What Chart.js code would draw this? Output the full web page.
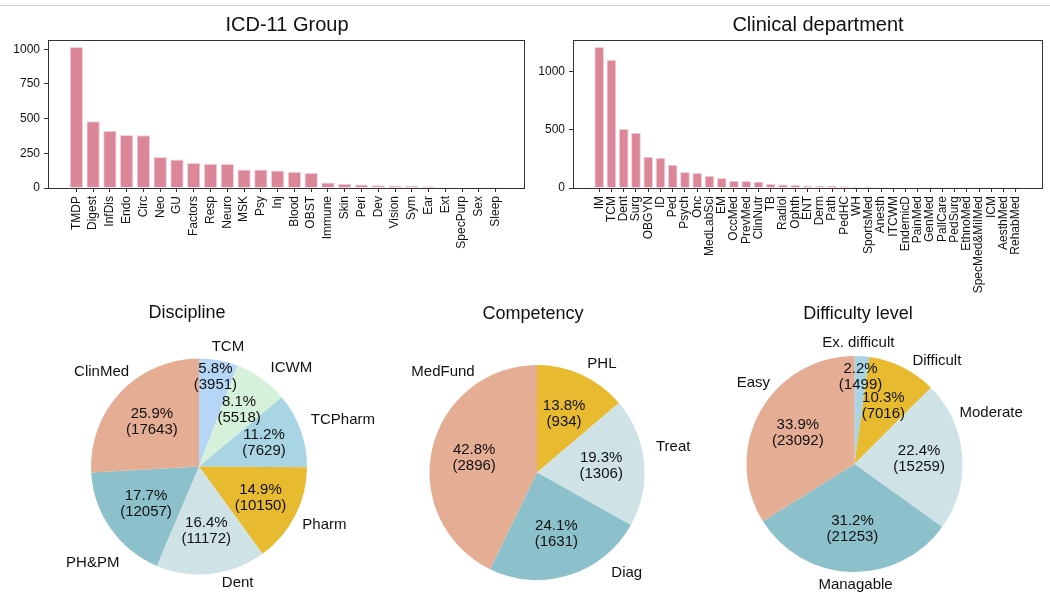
<!DOCTYPE html>
<html>
<head>
<meta charset="utf-8">
<title>ICD-11 / department / discipline overview</title>
<script src="https://cdn.jsdelivr.net/npm/chart.js@4.4.0/dist/chart.umd.min.js"></script>
<style>
  html, body { margin: 0; padding: 0; background: #fff; }
  #wrap { position: relative; width: 1050px; height: 594px; overflow: hidden; }
  #wrap canvas { position: absolute; left: 0; top: 0; }
  .rule { position: absolute; left: 0; top: 5px; width: 1050px; border-top: 1px solid #cfcfcf; }
</style>
</head>
<body>
<div id="wrap">
  <div class="rule"></div>
  <canvas id="icd" width="1050" height="594"></canvas>
  <canvas id="dept" width="1050" height="594"></canvas>
  <canvas id="discipline" width="1050" height="594"></canvas>
  <canvas id="competency" width="1050" height="594"></canvas>
  <canvas id="difficulty" width="1050" height="594"></canvas>
</div>
<script>
// ---- data ----
const icdGroups = ['TMDP','Digest','InfDis','Endo','Circ','Neo','GU','Factors','Resp','Neuro','MSK','Psy','Inj',
  'Blood','OBST','Immune','Skin','Peri','Dev','Vision','Sym','Ear','Ext','SpecPurp','Sex','Sleep'];
const icdCounts = [1016,482,412,382,381,223,206,180,174,173,134,134,126,118,110,40,31,26,19,17,17,12,7,2,1,1];
const icdTicks = [0,250,500,750,1000];

const departments = ['IM','TCM','Dent','Surg','OBGYN','ID','Ped','Psych','Onc','MedLabSci','EM','OccMed','PrevMed',
  'ClinNutr','TB','Radiol','Ophth','ENT','Derm','Path','PedHC','WH','SportsMed','Anesth','ITCWM','EndemicD','PainMed',
  'GenMed','PallCare','PedSurg','EthnoMed','SpecMed&MilMed','ICM','AesthMed','RehabMed'];
const deptCounts = [1208,1099,507,473,268,259,199,137,131,105,85,62,60,55,37,31,26,21,20,20,16,12,11,9,6,4,3,
  1,1,1,1,1,1,1,1];
const deptTicks = [0,500,1000];

const disciplineLabels = ['TCM','ICWM','TCPharm','Pharm','Dent','PH&PM','ClinMed'];
const disciplineCounts = [3951,5518,7629,10150,11172,12057,17643];

const competencyLabels = ['PHL','Treat','Diag','MedFund'];
const competencyCounts = [934,1306,1631,2896];

const difficultyLabels = ['Ex. difficult','Difficult','Moderate','Managable','Easy'];
const difficultyCounts = [1499,7016,15259,21253,23092];

// ---- styling ----
const W = 1050, H = 594;
const FONT = '"Liberation Sans", Arial, Helvetica, sans-serif';
const BAR = '#db8799', BAR_EDGE = '#f3d3da';
const AXIS = '#333';
const C = { sky: '#b5d6f6', mint: '#d6f1da', blue: '#a9d4e4', gold: '#e7ba30',
            pale: '#cfe2e6', teal: '#8cc0ca', salmon: '#e6ad95' };

Chart.defaults.font.family = FONT;
Chart.defaults.color = '#111';

// full box around the bar axes + the title above it
const frame = {
  id: 'frame',
  afterDraw(chart, args, o) {
    const {ctx, chartArea: a} = chart;
    ctx.save();
    ctx.strokeStyle = AXIS;
    ctx.lineWidth = 1;
    ctx.strokeRect(Math.round(a.left) + 0.5, Math.round(a.top) + 0.5,
                   Math.round(a.right - a.left), Math.round(a.bottom - a.top));
    ctx.fillStyle = '#111';
    ctx.font = '20px ' + FONT;
    ctx.textAlign = 'center';
    ctx.textBaseline = 'middle';
    ctx.fillText(o.title, o.titleX, o.titleY);
    ctx.restore();
  }
};

function barChart(id, labels, values, ticks, box, title) {
  const n = labels.length;
  const m = 0.05 * (n - 0.2);           // matplotlib-like x margins
  const yw = Math.min(box.left, 50);
  return new Chart(document.getElementById(id), {
    type: 'bar',
    data: {
      datasets: [{
        data: values.map((v, i) => ({ x: i, y: v })),
        backgroundColor: BAR, borderColor: BAR_EDGE, borderWidth: 1,
        barPercentage: 0.8, categoryPercentage: 1
      }]
    },
    options: {
      responsive: false, animation: false, events: [],
      layout: { padding: { left: box.left - yw, top: box.top, right: W - box.right, bottom: 0 } },
      plugins: {
        legend: { display: false }, tooltip: { enabled: false },
        frame: { title: title.text, titleX: title.x, titleY: title.y }
      },
      scales: {
        x: {
          type: 'linear', bounds: 'data', offset: false, min: -0.4 - m, max: n - 0.6 + m,
          afterBuildTicks: s => { s.ticks = labels.map((_, i) => ({ value: i })); },
          afterFit: s => { s.height = H - box.bottom; },
          border: { display: false },
          grid: { offset: false, drawOnChartArea: false, tickLength: 4, color: AXIS, tickColor: AXIS },
          ticks: { callback: v => labels[v], autoSkip: false, minRotation: 90, maxRotation: 90,
                   padding: 4, font: { size: 12 }, color: '#111' }
        },
        y: {
          bounds: 'data', min: 0, max: Math.max(...values) * 1.05,
          afterBuildTicks: s => { s.ticks = ticks.map(v => ({ value: v })); },
          afterFit: s => { s.width = yw; },
          border: { display: false },
          grid: { drawOnChartArea: false, tickLength: 4, color: AXIS, tickColor: AXIS },
          ticks: { callback: v => String(v), padding: 4, font: { size: 12 }, color: '#111' }
        }
      }
    },
    plugins: [frame]
  });
}

// percentages inside the slices, names around the pie, title above
const pieText = {
  id: 'pieText',
  afterDatasetsDraw(chart, args, o) {
    const {ctx} = chart;
    const vals = chart.data.datasets[0].data;
    const total = vals.reduce((a, b) => a + b, 0);
    ctx.save();
    ctx.fillStyle = '#111';
    ctx.font = '15px ' + FONT;
    ctx.textAlign = 'center';
    ctx.textBaseline = 'middle';
    chart.getDatasetMeta(0).data.forEach((arc, i) => {
      const {x, y, startAngle, endAngle, outerRadius: r} = arc;
      const mid = (startAngle + endAngle) / 2;
      const pd = (o.pctDist && o.pctDist[i]) || 0.6;
      const px = x + Math.cos(mid) * r * pd, py = y + Math.sin(mid) * r * pd;
      ctx.fillText((vals[i] / total * 100).toFixed(1) + '%', px, py - 8);
      ctx.fillText('(' + vals[i] + ')', px, py + 8);
      const [deg, dist] = o.spots[i];
      const a = (deg - 90) * Math.PI / 180;
      ctx.fillText(chart.data.labels[i], x + Math.cos(a) * r * dist, y + Math.sin(a) * r * dist);
    });
    ctx.font = '18px ' + FONT;
    ctx.fillText(o.title, o.titleX, o.titleY);
    ctx.restore();
  }
};

function pieChart(id, labels, values, colors, g, text) {
  return new Chart(document.getElementById(id), {
    type: 'pie',
    data: { labels, datasets: [{ data: values, backgroundColor: colors, borderWidth: 0 }] },
    options: {
      responsive: false, animation: false, events: [],
      layout: { padding: { left: g.cx - g.r, top: g.cy - g.r, right: W - g.cx - g.r, bottom: H - g.cy - g.r } },
      plugins: { legend: { display: false }, tooltip: { enabled: false }, pieText: text }
    },
    plugins: [pieText]
  });
}

barChart('icd', icdGroups, icdCounts, icdTicks,
  { left: 48, right: 524, top: 40, bottom: 188 }, { text: 'ICD-11 Group', x: 287, y: 25 });
barChart('dept', departments, deptCounts, deptTicks,
  { left: 573, right: 1042, top: 40, bottom: 188 }, { text: 'Clinical department', x: 818, y: 25 });

pieChart('discipline', disciplineLabels, disciplineCounts,
  [C.sky, C.mint, C.blue, C.gold, C.pale, C.teal, C.salmon],
  { cx: 199, cy: 466.5, r: 108 },
  { title: 'Discipline', titleX: 187, titleY: 313,
    pctDist: [0.84, 0.64, 0.64, 0.64],
    spots: [[13.6, 1.14], [43.2, 1.25], [72.2, 1.4], [114.9, 1.28], [161.6, 1.135], [227.7, 1.33], [314.3, 1.26]] });

pieChart('competency', competencyLabels, competencyCounts,
  [C.gold, C.pale, C.teal, C.salmon],
  { cx: 537, cy: 472.5, r: 107.5 },
  { title: 'Competency', titleX: 533, titleY: 314,
    spots: [[30.8, 1.18], [79.2, 1.29], [138.1, 1.25], [316.9, 1.28]] });

pieChart('difficulty', difficultyLabels, difficultyCounts,
  [C.blue, C.gold, C.pale, C.teal, C.salmon],
  { cx: 854.5, cy: 464, r: 108 },
  { title: 'Difficulty level', titleX: 858, titleY: 314,
    pctDist: [0.81],
    spots: [[1.8, 1.12], [38.7, 1.22], [69.6, 1.35], [179.5, 1.12], [308.7, 1.2]] });
</script>
</body>
</html>
